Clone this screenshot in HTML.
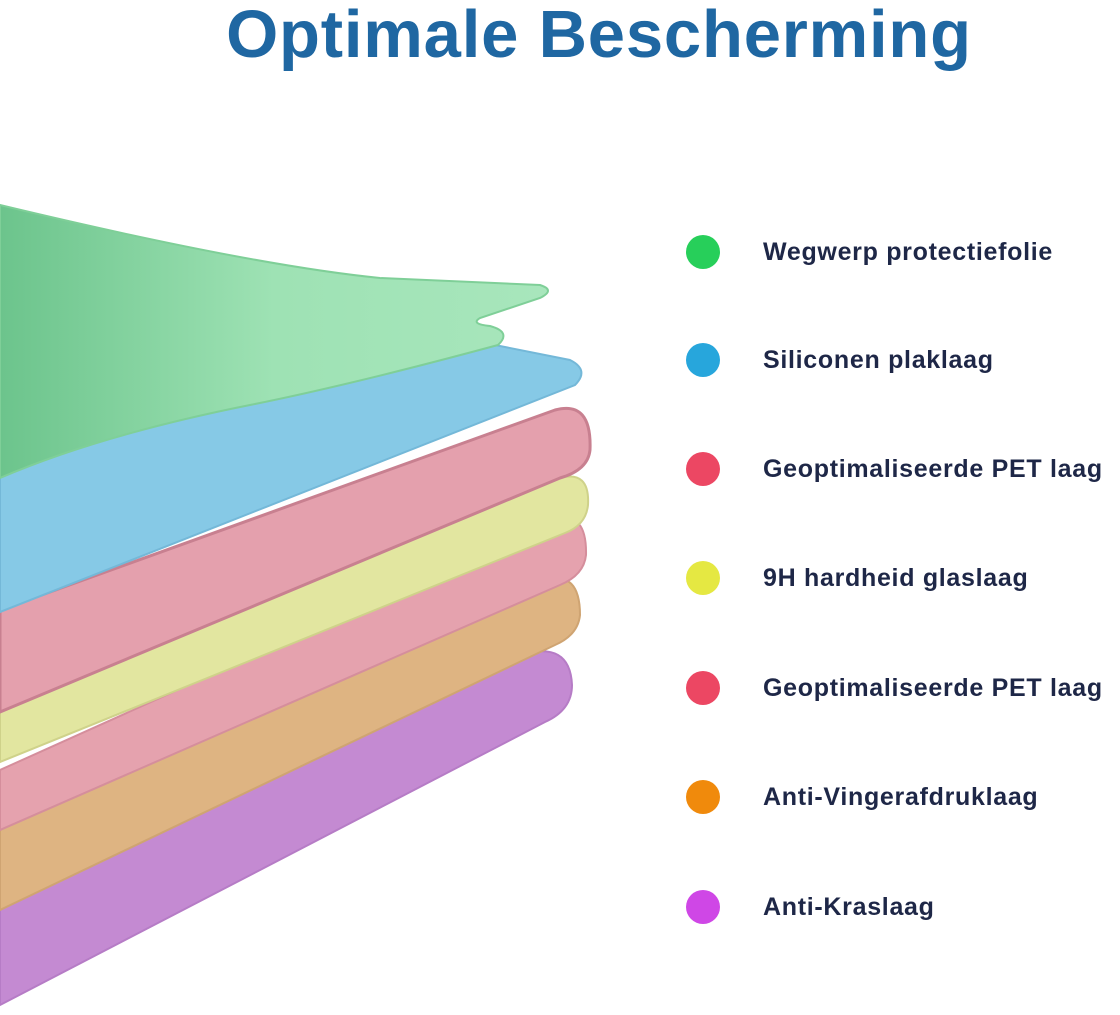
<!DOCTYPE html>
<html><head><meta charset="utf-8"><style>
html,body{margin:0;padding:0;background:#fff;}
body{width:1120px;height:1015px;position:relative;overflow:hidden;font-family:"Liberation Sans",sans-serif;}
h1{position:absolute;left:0;width:1198px;top:-4px;margin:0;text-align:center;font-size:67px;font-weight:bold;color:#1f67a2;letter-spacing:0.8px;}
.leg{position:absolute;left:686px;}
.dot{position:absolute;left:0;width:34px;height:34px;border-radius:50%;}
.lbl{position:absolute;left:77px;top:3px;white-space:nowrap;font-size:25px;font-weight:bold;color:#1e2747;letter-spacing:0.7px;}
</style></head><body>
<h1>Optimale Bescherming</h1>
<svg width="1120" height="1015" style="position:absolute;left:0;top:0">
<defs>
<linearGradient id="g" x1="0" x2="1" y1="0" y2="0"><stop offset="0" stop-color="#6cc48c"/><stop offset="0.5" stop-color="#9ee2b4"/><stop offset="1" stop-color="#a8e6bc"/></linearGradient>
</defs>
<path d="M0,900 L520,655 Q570,640 572,685 Q572,710 545,722 L0,1005 Z" fill="#c48ad2" stroke="#b67cc6" stroke-width="2"/>
<path d="M0,830 L545,580 Q580,570 580,615 Q578,635 555,645 L0,910 Z" fill="#deb482" stroke="#cfa472" stroke-width="2"/>
<path d="M0,770 L555,520 Q587,510 586,555 Q584,575 560,585 L0,830 Z" fill="#e5a2ae" stroke="#d58e9c" stroke-width="2"/>
<path d="M0,700 L560,478 Q590,470 588,505 Q586,525 565,533 L0,762 Z" fill="#e2e6a0" stroke="#cfd28a" stroke-width="2"/>
<path d="M0,610 L555,410 Q592,400 590,450 Q588,470 560,478 L0,712 Z" fill="#e4a0ad" stroke="#c88090" stroke-width="3"/>
<path d="M0,430 L495,345 L570,360 Q590,370 575,385 L0,612 Z" fill="#86c9e6" stroke="#74b8d8" stroke-width="2"/>
<path d="M0,205 Q250,265 380,278 L540,285 Q556,290 540,298 L480,318 Q470,324 490,326 Q512,332 498,345 Q350,385 250,405 Q100,435 0,478 Z" fill="url(#g)" stroke="#7fcf98" stroke-width="2"/>
</svg>
<div class="leg" style="top:235px"><div class="dot" style="background:#27cf5a"></div><div class="lbl">Wegwerp protectiefolie</div></div>
<div class="leg" style="top:343px"><div class="dot" style="background:#27a6dc"></div><div class="lbl">Siliconen plaklaag</div></div>
<div class="leg" style="top:452px"><div class="dot" style="background:#ec4763"></div><div class="lbl">Geoptimaliseerde PET laag</div></div>
<div class="leg" style="top:561px"><div class="dot" style="background:#e5e842"></div><div class="lbl">9H hardheid glaslaag</div></div>
<div class="leg" style="top:671px"><div class="dot" style="background:#ec4763"></div><div class="lbl">Geoptimaliseerde PET laag</div></div>
<div class="leg" style="top:780px"><div class="dot" style="background:#f08a0c"></div><div class="lbl">Anti-Vingerafdruklaag</div></div>
<div class="leg" style="top:890px"><div class="dot" style="background:#cf47e6"></div><div class="lbl">Anti-Kraslaag</div></div>
</body></html>
